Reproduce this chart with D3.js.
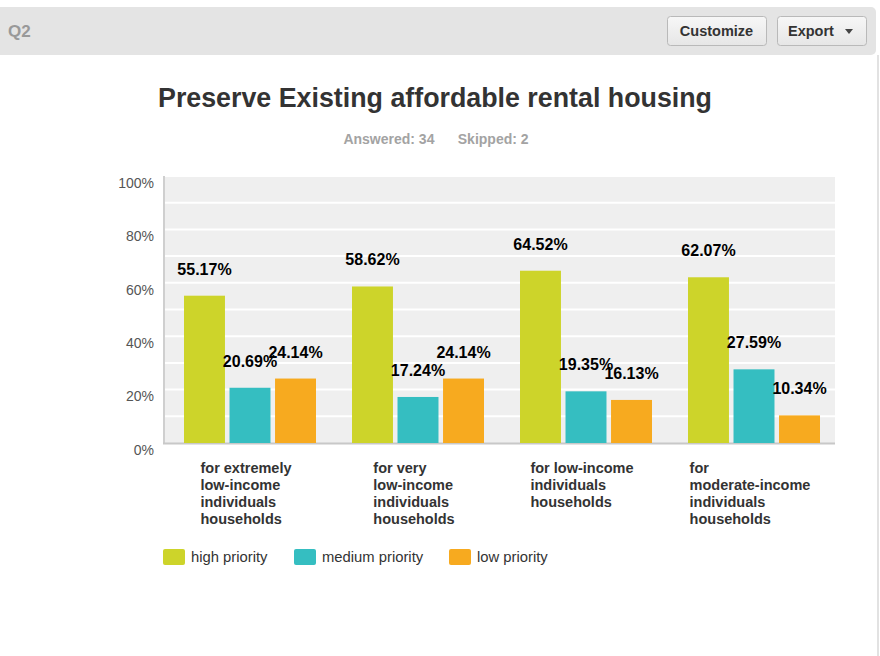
<!DOCTYPE html>
<html>
<head>
<meta charset="utf-8">
<script src="https://cdn.jsdelivr.net/npm/d3@7"></script>
<style>
  body { margin: 0; background: #fff; }
  text { font-family: "Liberation Sans", Arial, Helvetica, sans-serif; }
</style>
</head>
<body>
<div id="chart"></div>
<script>
const categories = [
  ["for extremely", "low-income", "individuals", "households"],
  ["for very", "low-income", "individuals", "households"],
  ["for low-income", "individuals", "households"],
  ["for", "moderate-income", "individuals", "households"]
];
const seriesNames = ["high priority", "medium priority", "low priority"];
const seriesColors = ["#cdd42a", "#35bec1", "#f7aa1f"];
const high = [55.17, 58.62, 64.52, 62.07];
const medium = [20.69, 17.24, 19.35, 27.59];
const low = [24.14, 24.14, 16.13, 10.34];
const yTicks = [0, 20, 40, 60, 80, 100];

const width = 880;
const height = 656;
const plotLeft = 163;
const plotRight = 835;
const plotTop = 176;
const plotBottom = 443;

const svg = d3.select("#chart")
  .append("svg")
    .attr("width", width)
    .attr("height", height);

// header bar
svg.append("rect")
  .attr("x", -6).attr("y", 7)
  .attr("width", 882).attr("height", 48)
  .attr("rx", 5)
  .attr("fill", "#e4e4e4");
svg.append("line")
  .attr("x1", 878).attr("x2", 878)
  .attr("y1", 55).attr("y2", height)
  .attr("stroke", "#e2e2e2").attr("stroke-width", 2);
svg.append("text")
  .attr("x", 8).attr("y", 37)
  .attr("font-size", 17).attr("font-weight", "bold")
  .attr("fill", "#999")
  .text("Q2");

const grad = svg.append("defs").append("linearGradient")
  .attr("id", "btn").attr("x1", 0).attr("x2", 0).attr("y1", 0).attr("y2", 1);
grad.append("stop").attr("offset", "0%").attr("stop-color", "#f7f7f7");
grad.append("stop").attr("offset", "100%").attr("stop-color", "#e6e6e6");

const buttons = [
  { label: "Customize", x: 667, w: 99 },
  { label: "Export", x: 777, w: 89 }
];
buttons.forEach(b => {
  svg.append("rect")
    .attr("x", b.x + 0.5).attr("y", 16.5)
    .attr("width", b.w).attr("height", 29)
    .attr("rx", 3)
    .attr("fill", "url(#btn)")
    .attr("stroke", "#b9b9b9");
});
svg.append("text")
  .attr("x", 667 + 99 / 2).attr("y", 36)
  .attr("text-anchor", "middle")
  .attr("font-size", 14.5).attr("font-weight", "bold")
  .attr("fill", "#333")
  .text("Customize");
svg.append("text")
  .attr("x", 788).attr("y", 36)
  .attr("font-size", 14.5).attr("font-weight", "bold")
  .attr("fill", "#333")
  .text("Export");
svg.append("path")
  .attr("d", "M845,29 L853,29 L849,34 Z")
  .attr("fill", "#444");

// title
svg.append("text")
  .attr("x", 435).attr("y", 107)
  .attr("text-anchor", "middle")
  .attr("font-size", 26.8).attr("font-weight", "bold")
  .attr("fill", "#333")
  .text("Preserve Existing affordable rental housing");
svg.append("text")
  .attr("x", 436).attr("y", 144)
  .attr("text-anchor", "middle")
  .attr("font-size", 14).attr("font-weight", "bold")
  .attr("fill", "#a3a3a3")
  .attr("xml:space", "preserve")
  .text("Answered: 34      Skipped: 2");

// scales
const x0 = d3.scaleBand()
  .domain(d3.range(categories.length))
  .range([plotLeft, plotRight]);
const x1 = d3.scaleBand()
  .domain(d3.range(seriesNames.length))
  .range([21, 153])
  .paddingInner(0.1);
const y = d3.scaleLinear()
  .domain([0, 100])
  .range([plotBottom, plotTop]);

// plot background
svg.append("rect")
  .attr("x", plotLeft + 2).attr("y", plotTop)
  .attr("width", plotRight - plotLeft - 2)
  .attr("height", plotBottom - plotTop)
  .attr("fill", "#efefef");

// grid lines
svg.append("g")
  .selectAll("line")
  .data(d3.range(10, 101, 10))
  .join("line")
    .attr("x1", plotLeft + 2).attr("x2", plotRight)
    .attr("y1", d => y(d)).attr("y2", d => y(d))
    .attr("stroke", "#fff").attr("stroke-width", 2);

// y axis
const yAxis = svg.append("g")
  .attr("transform", `translate(${plotLeft - 9},0)`)
  .call(d3.axisLeft(y).tickValues(yTicks).tickSize(0).tickPadding(0).tickFormat(d => d + "%"));
yAxis.select(".domain").remove();
yAxis.selectAll("text")
  .attr("font-family", "Liberation Sans, Arial, sans-serif")
  .attr("font-size", 14)
  .attr("fill", "#555")
  .attr("dy", "0.95em")
  .attr("transform", "translate(0,-2)");

svg.append("line")
  .attr("x1", plotLeft + 1).attr("x2", plotLeft + 1)
  .attr("y1", plotTop).attr("y2", plotBottom + 1)
  .attr("stroke", "#cfcfcf").attr("stroke-width", 2);
svg.append("line")
  .attr("x1", plotLeft).attr("x2", plotRight)
  .attr("y1", plotBottom + 0.5).attr("y2", plotBottom + 0.5)
  .attr("stroke", "#c8c8c8").attr("stroke-width", 2);

// bars
const series = [high, medium, low];
const groups = svg.append("g")
  .selectAll("g")
  .data(categories.map((c, i) => i))
  .join("g")
    .attr("transform", i => `translate(${x0(i)},0)`);

groups.selectAll("rect")
  .data(i => series.map((s, k) => ({ k, v: s[i] })))
  .join("rect")
    .attr("x", d => x1(d.k))
    .attr("y", d => y(d.v))
    .attr("width", x1.bandwidth())
    .attr("height", d => plotBottom - y(d.v))
    .attr("fill", d => seriesColors[d.k]);

groups.selectAll("text.val")
  .data(i => series.map((s, k) => ({ k, v: s[i] })))
  .join("text")
    .attr("class", "val")
    .attr("x", d => x1(d.k) + x1.bandwidth() / 2)
    .attr("y", d => y(d.v) - 21)
    .attr("text-anchor", "middle")
    .attr("font-size", 16).attr("font-weight", "bold")
    .attr("fill", "#000")
    .text(d => d.v.toFixed(2) + "%");

// category labels: left-aligned block centered under group
const catLabels = svg.append("g")
  .selectAll("text")
  .data(categories)
  .join("text")
    .attr("font-size", 14.5).attr("font-weight", "bold")
    .attr("fill", "#333");
catLabels.each(function(lines, i) {
  const t = d3.select(this);
  lines.forEach((line, j) => {
    t.append("tspan").attr("x", 0).attr("y", 473 + j * 17).text(line);
  });
  const w = this.getBBox().width;
  const cx = x0(i) + x0.bandwidth() / 2 - 1;
  t.selectAll("tspan").attr("x", cx - w / 2);
});

// legend
const legendX = [163, 294, 449];
const legend = svg.append("g")
  .selectAll("g")
  .data(seriesNames)
  .join("g")
    .attr("transform", (d, i) => `translate(${legendX[i]},549)`);
legend.append("rect")
  .attr("width", 22).attr("height", 16)
  .attr("rx", 2)
  .attr("fill", (d, i) => seriesColors[i]);
legend.append("text")
  .attr("x", 28).attr("y", 13)
  .attr("font-size", 14.8)
  .attr("fill", "#333")
  .text(d => d);
</script>
</body>
</html>
